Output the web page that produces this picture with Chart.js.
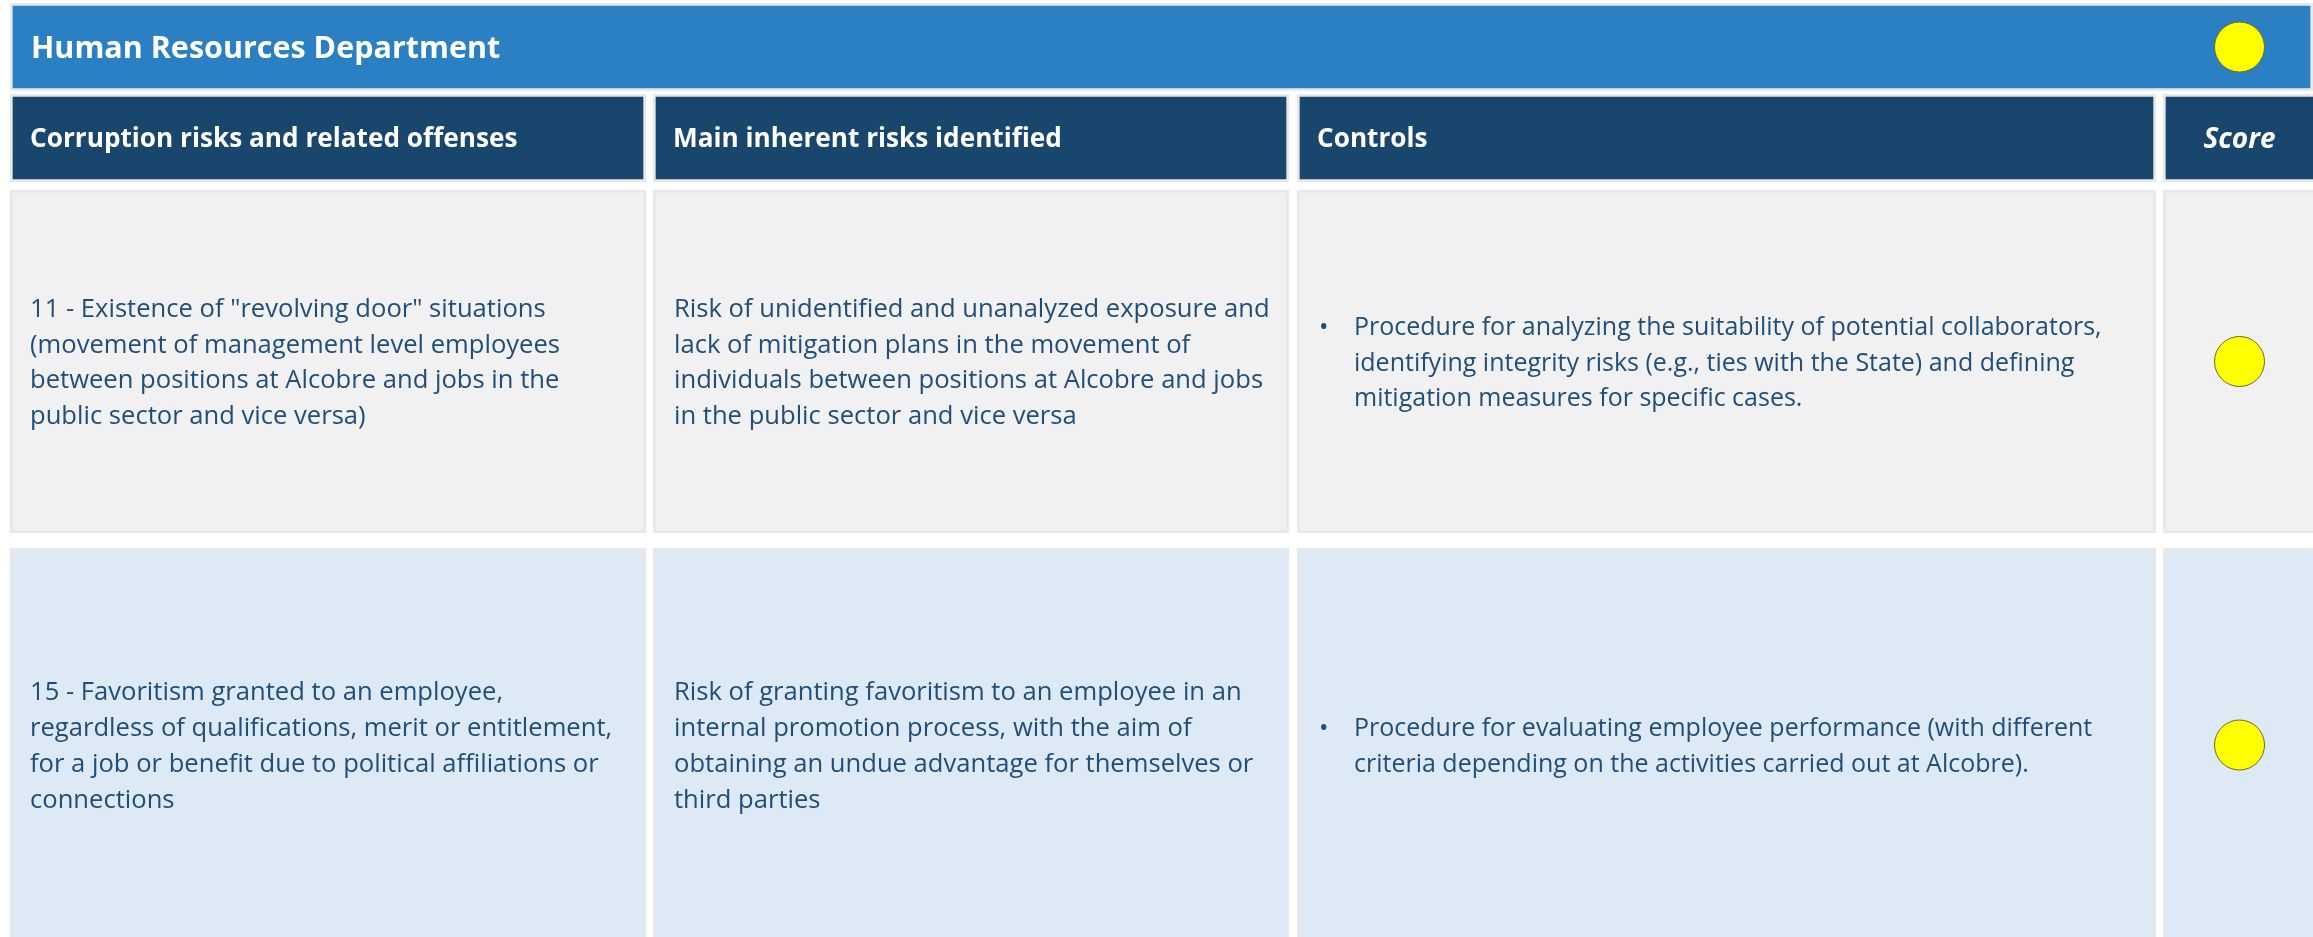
<!DOCTYPE html>
<html>
<head>
<meta charset="utf-8">
<script src="https://cdn.jsdelivr.net/npm/chart.js@4"></script>
<style>
  html, body { margin: 0; padding: 0; background: #ffffff; }
  canvas { display: block; }
</style>
</head>
<body>
<canvas id="risk-chart" width="2313" height="937"></canvas>
<script>
'use strict';

// DATA
const sectionTitle = 'Human Resources Department';
const sectionScore = 'medium';
const headerLabels = ['Corruption risks and related offenses', 'Main inherent risks identified', 'Controls', 'Score'];

const riskOffenses = [
  ['11 - Existence of "revolving door" situations', '(movement of management level employees', 'between positions at Alcobre and jobs in the', 'public sector and vice versa)'],
  ['15 - Favoritism granted to an employee,', 'regardless of qualifications, merit or entitlement,', 'for a job or benefit due to political affiliations or', 'connections']
];
const inherentRisks = [
  ['Risk of unidentified and unanalyzed exposure and', 'lack of mitigation plans in the movement of', 'individuals between positions at Alcobre and jobs', 'in the public sector and vice versa'],
  ['Risk of granting favoritism to an employee in an', 'internal promotion process, with the aim of', 'obtaining an undue advantage for themselves or', 'third parties']
];
const controls = [
  ['Procedure for analyzing the suitability of potential collaborators,', 'identifying integrity risks (e.g., ties with the State) and defining', 'mitigation measures for specific cases.'],
  ['Procedure for evaluating employee performance (with different', 'criteria depending on the activities carried out at Alcobre).']
];
const rowScores = ['medium', 'medium'];

// LAYOUT / STYLE
const W = 2313;
const H = 937;
const colEdges = [[10, 646], [653, 1289], [1297, 2156], [2163, 2318]];
const titleEdges = [10, 2313];
const bands = [[3, 91], [94, 182], [190, 533], [548, 942]];
const scoreColors = { low: '#00B050', medium: '#FFFF00', high: '#FF0000' };
const bandFill = ['#2B80C3', '#18466C', '#F1F1F1', '#DDE9F5'];
const borderGrey = '#E8E8E8';
const textBlue = '#1F4E79';
const bodyFont = '25.6px "Open Sans"';
const controlFont = '25px "Open Sans"';
const headFont = 'bold 26.2px "Open Sans"';
const scoreHeadFont = 'italic bold 28px "Open Sans"';
const titleFont = 'bold 30.5px "Open Sans"';
const lineHeight = 35.8;

function bandCenter(b) { return (bands[b][0] + bands[b][1]) / 2; }
function bandHeight(b) { return bands[b][1] - bands[b][0]; }
const scoreX = (colEdges[3][0] + colEdges[3][1]) / 2 - 1;

// BAR DATASETS (one per horizontal band)
function makeBand(b, ranges) {
  return {
    type: 'bar',
    label: 'band' + b,
    data: ranges.map(r => ({ x: [r[0], r[1]], y: bandCenter(b) })),
    backgroundColor: bandFill[b],
    borderColor: borderGrey,
    borderWidth: 3,
    borderSkipped: false,
    barThickness: bandHeight(b),
    grouped: false,
    order: 2
  };
}

let datasets = [];
datasets.push(makeBand(0, [titleEdges]));
datasets.push(makeBand(1, colEdges));
datasets.push(makeBand(2, colEdges));
datasets.push(makeBand(3, colEdges));

// SCORE DOTS
let scorePoints = [{ x: scoreX, y: bandCenter(0) }];
let scoreFill = [scoreColors[sectionScore]];
for (let i = 0; i < rowScores.length; i++) {
  scorePoints.push({ x: scoreX, y: bandCenter(2 + i) });
  scoreFill.push(scoreColors[rowScores[i]]);
}
datasets.push({
  type: 'scatter',
  label: 'score',
  data: scorePoints,
  pointRadius: 25,
  pointBackgroundColor: scoreFill,
  pointBorderColor: '#6B6B2A',
  pointBorderWidth: 1,
  order: 0
});

// TEXT PLUGIN - writes the cell texts inside the bar elements
function cellBox(chart, dsIndex, i) {
  let el = chart.getDatasetMeta(dsIndex).data[i];
  return { left: Math.min(el.x, el.base), right: Math.max(el.x, el.base), cy: el.y };
}

function drawLines(ctx, lines, x, cy, capHalf) {
  let first = cy - (lines.length - 1) / 2 * lineHeight + capHalf;
  for (let i = 0; i < lines.length; i++) {
    ctx.fillText(lines[i], x, first + i * lineHeight);
  }
}

const cellText = {
  id: 'cellText',
  afterDatasetsDraw(chart) {
    const ctx = chart.ctx;
    ctx.save();
    ctx.textBaseline = 'alphabetic';
    ctx.textAlign = 'left';

    // title
    let t = cellBox(chart, 0, 0);
    ctx.font = titleFont;
    ctx.fillStyle = '#ffffff';
    ctx.fillText(sectionTitle, t.left + 21, t.cy + 11);

    // headers
    for (let c = 0; c < headerLabels.length; c++) {
      let b = cellBox(chart, 1, c);
      ctx.fillStyle = '#ffffff';
      if (c === 3) {
        ctx.font = scoreHeadFont;
        ctx.textAlign = 'center';
        ctx.fillText(headerLabels[c], scoreX, b.cy + 10);
        ctx.textAlign = 'left';
      } else {
        ctx.font = headFont;
        ctx.fillText(headerLabels[c], b.left + 20, b.cy + 9);
      }
    }

    // body rows
    ctx.fillStyle = textBlue;
    for (let r = 0; r < riskOffenses.length; r++) {
      let ds = 2 + r;
      ctx.font = bodyFont;
      let c1 = cellBox(chart, ds, 0);
      drawLines(ctx, riskOffenses[r], c1.left + 20, c1.cy, 9);
      let c2 = cellBox(chart, ds, 1);
      drawLines(ctx, inherentRisks[r], c2.left + 21, c2.cy, 9);
      ctx.font = controlFont;
      let c3 = cellBox(chart, ds, 2);
      drawLines(ctx, controls[r], c3.left + 57, c3.cy, 9);
      let firstY = c3.cy - (controls[r].length - 1) / 2 * lineHeight + 9;
      ctx.fillText('\u2022', c3.left + 22, firstY);
    }
    ctx.restore();
  }
};

// CHART
let ctx = document.getElementById('risk-chart');

new Chart(ctx, {
  type: 'bar',
  data: { datasets: datasets },
  options: {
    indexAxis: 'y',
    responsive: false,
    animation: false,
    devicePixelRatio: 1,
    events: [],
    layout: { padding: 0, autoPadding: false },
    plugins: {
      legend: { display: false },
      tooltip: { enabled: false }
    },
    scales: {
      x: { type: 'linear', min: 0, max: W, display: false, offset: false },
      y: { type: 'linear', min: 0, max: H, reverse: true, display: false, offset: false }
    }
  },
  plugins: [cellText]
});
</script>
</body>
</html>
